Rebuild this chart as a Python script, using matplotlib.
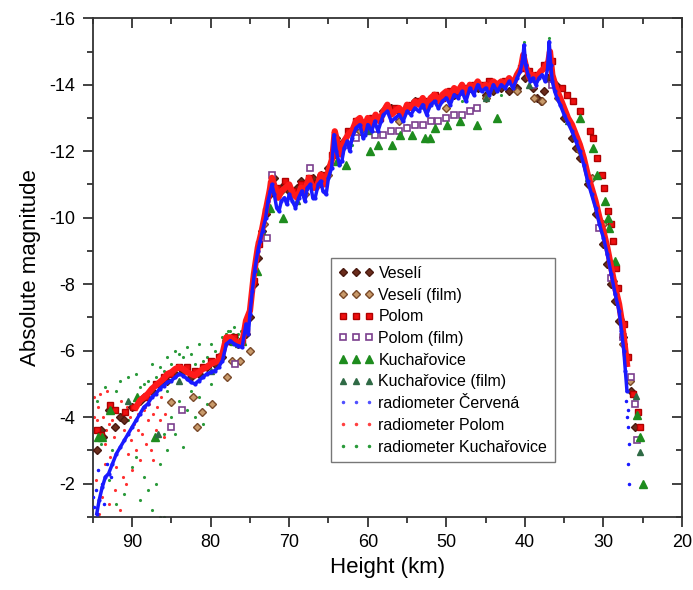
import numpy as np
import matplotlib
matplotlib.use('Agg')
import matplotlib.pyplot as plt
from matplotlib.ticker import MultipleLocator

plt.rcParams['font.family'] = ['Liberation Sans', 'DejaVu Sans']
plt.rcParams['axes.unicode_minus'] = False

# radiometer Cervena (dense light curve)
cer_h = [94.5, 94.2, 93.8, 93.4, 93.0, 92.5, 92.0, 91.5, 91.0, 90.5, 90.0, 89.5, 89.0, 88.5, 88.0,
         87.5, 87.0, 86.5, 86.0, 85.5, 85.0, 84.5, 84.0, 83.5, 83.0, 82.5, 82.0, 81.5, 81.0, 80.5,
         80.0, 79.5, 79.0, 78.5, 78.0, 77.5, 77.0, 76.5, 76.0, 75.5, 75.2, 75.0, 74.7, 74.4, 74.0,
         73.7, 73.4, 73.0, 72.7, 72.4, 72.2, 71.9, 71.6, 71.3, 71.0, 70.6, 70.3, 70.0, 69.6, 69.2,
         68.8, 68.4, 68.0, 67.7, 67.3, 67.0, 66.7, 66.3, 66.0, 65.7, 65.3, 65.0, 64.6, 64.3, 64.0,
         63.6, 63.3, 63.0, 62.6, 62.3, 62.0, 61.5, 61.0, 60.6, 60.3, 60.0, 59.5, 59.1, 58.7, 58.3,
         58.0, 57.5, 57.0, 56.5, 56.0, 55.5, 55.0, 54.5, 54.0, 53.5, 53.0, 52.5, 52.0, 51.5, 51.0,
         50.5, 50.0, 49.5, 49.0, 48.5, 48.0, 47.5, 47.0, 46.5, 46.0, 45.5, 45.0, 44.5, 44.0, 43.5,
         43.0, 42.5, 42.0, 41.5, 41.0, 40.6, 40.3, 40.1, 39.9, 39.6, 39.3, 39.0, 38.6, 38.2, 37.8,
         37.4, 37.1, 36.9, 36.7, 36.5, 36.2, 35.9, 35.5, 35.0, 34.5, 34.0, 33.5, 33.0, 32.5, 32.0,
         31.5, 31.0, 30.5, 30.0, 29.5, 29.0, 28.5, 28.0, 27.7, 27.4, 27.2, 27.0]
cer_m = [-1.1, -1.5, -1.9, -2.2, -2.3, -2.6, -2.9, -3.1, -3.3, -3.5, -3.7, -3.9, -4.1, -4.3, -4.4,
         -4.6, -4.7, -4.85, -4.95, -5.05, -5.1, -5.2, -5.3, -5.25, -5.15, -5.05, -5.0, -5.1, -5.2, -5.3,
         -5.35, -5.4, -5.5, -5.7, -6.2, -6.3, -6.2, -6.15, -6.1, -6.8, -6.5, -7.1, -7.8, -8.4, -9.0,
         -9.3, -9.6, -10.0, -10.5, -10.8, -11.0, -10.7, -10.3, -10.2, -10.5, -10.6, -10.4, -10.7, -10.5, -10.3,
         -10.6, -10.8, -10.5, -10.9, -11.0, -10.6, -10.6, -11.0, -11.1, -10.8, -10.7, -11.2, -11.5, -12.5, -12.0,
         -11.6, -11.7, -12.1, -12.3, -12.0, -12.4, -12.7, -12.8, -12.4, -12.5, -12.8, -12.6, -12.9, -12.6, -12.9,
         -13.1, -13.2, -12.9, -13.0, -13.1, -12.9, -13.2, -13.1, -13.3, -13.2, -13.4, -13.1, -13.4, -13.5, -13.3,
         -13.5, -13.6, -13.4, -13.7, -13.6, -13.8, -13.5, -13.9, -13.7, -14.0, -13.8, -13.9, -13.7, -14.0, -13.8,
         -14.0, -13.9, -14.1, -13.9, -14.2, -14.4, -14.7, -15.2, -14.6, -14.3, -14.1, -14.2, -14.0, -14.2, -14.3,
         -14.1, -14.5, -15.3, -14.6, -14.1, -13.8, -13.6, -13.4, -13.1, -12.85, -12.6, -12.3, -12.0, -11.6, -11.1,
         -10.7, -10.3, -9.8, -9.4, -8.9, -8.3, -7.7, -7.2, -6.6, -6.0, -5.4, -4.8]
cer_sc_h = [26.9, 26.9, 26.8, 26.9, 26.8, 27.1, 27.0, 94.8, 94.6, 95.0, 94.3, 93.9, 93.6, 93.2, 92.7]
cer_sc_m = [-4.2, -3.7, -3.2, -2.6, -2.0, -4.5, -4.0, -1.3, -1.8, -1.6, -2.4, -2.0, -1.4, -2.6, -2.2]

# radiometer Polom
pol_h = [89.5, 89.0, 88.5, 88.0, 87.5, 87.0, 86.5, 86.0, 85.5, 85.0, 84.5, 84.0, 83.5, 83.0, 82.5,
         82.0, 81.5, 81.0, 80.5, 80.0, 79.5, 79.0, 78.5, 78.0, 77.5, 77.0, 76.5, 76.0, 75.5, 75.0,
         74.5, 74.0, 73.5, 73.0, 72.5, 72.2, 71.8, 71.4, 71.0, 70.5, 70.0, 69.5, 69.0, 68.5, 68.0,
         67.5, 67.0, 66.5, 66.0, 65.5, 65.0, 64.5, 64.2, 63.8, 63.4, 63.0, 62.5, 62.0, 61.5, 61.0,
         60.5, 60.0, 59.5, 59.0, 58.5, 58.0, 57.5, 57.0, 56.5, 56.0, 55.5, 55.0, 54.5, 54.0, 53.5,
         53.0, 52.5, 52.0, 51.5, 51.0, 50.5, 50.0, 49.5, 49.0, 48.5, 48.0, 47.5, 47.0, 46.5, 46.0,
         45.5, 45.0, 44.5, 44.0, 43.5, 43.0, 42.5, 42.0, 41.5, 41.0, 40.5, 40.2, 39.8, 39.4, 39.0,
         38.5, 38.0, 37.5, 37.0, 36.8, 36.5, 36.0, 35.5, 35.0, 34.5, 34.0, 33.5, 33.0, 32.5, 32.0,
         31.5, 31.0, 30.5, 30.0, 29.5, 29.0, 28.5, 28.0, 27.6, 27.3, 27.0]
pol_m = [-4.3, -4.5, -4.6, -4.7, -4.85, -4.95, -5.05, -5.15, -5.3, -5.35, -5.45, -5.5, -5.45, -5.35, -5.3,
         -5.25, -5.35, -5.45, -5.5, -5.6, -5.65, -5.7, -5.9, -6.4, -6.4, -6.3, -6.25, -6.2, -6.9, -7.2,
         -8.3, -9.1, -9.6, -10.2, -10.8, -11.2, -10.9, -10.6, -10.8, -10.9, -11.0, -10.7, -10.6, -10.9, -10.8,
         -11.2, -10.9, -10.9, -11.3, -11.0, -11.4, -11.8, -12.6, -12.2, -11.9, -12.3, -12.5, -12.6, -12.9, -13.0,
         -12.7, -13.0, -12.8, -13.1, -12.9, -13.2, -13.4, -13.1, -13.2, -13.3, -13.1, -13.4, -13.3, -13.5, -13.4,
         -13.6, -13.3, -13.6, -13.7, -13.5, -13.7, -13.8, -13.6, -13.9, -13.8, -14.0, -13.7, -14.0, -13.9, -14.1,
         -13.9, -14.0, -13.9, -14.1, -14.0, -14.1, -14.0, -14.2, -14.0, -14.3, -14.5, -14.9, -14.5, -14.2, -14.3,
         -14.2, -14.4, -14.5, -14.7, -15.0, -14.3, -13.9, -13.6, -13.3, -13.0, -12.8, -12.5, -12.2, -11.8, -11.3,
         -10.9, -10.5, -10.0, -9.6, -9.1, -8.5, -7.9, -7.4, -6.8, -6.2, -5.6]
pol_sc_h = [94.8, 94.5, 94.3, 94.0, 93.7, 93.5, 93.2, 93.0, 92.8, 92.6, 92.3, 92.0, 91.8, 91.5, 91.2,
            91.0, 90.7, 90.5, 90.2, 90.0, 89.8, 89.5, 89.2, 89.0, 88.7, 88.5, 88.2, 88.0, 87.6, 87.3,
            87.0, 86.5, 86.0, 93.8, 93.0, 92.2, 94.6, 93.4, 91.6, 90.8, 95.0, 94.2, 88.8, 87.8, 86.8, 85.8,
            94.9, 94.1, 93.3, 92.5, 91.4, 90.3, 89.3, 88.3, 87.4, 86.3]
pol_sc_m = [-4.6, -3.9, -4.3, -3.5, -4.0, -3.2, -4.8, -3.8, -2.8, -4.4, -3.4, -2.5, -4.0, -3.1, -2.2,
            -3.6, -4.3, -2.9, -3.3, -2.4, -3.8, -3.0, -4.1, -2.7, -3.5, -4.2, -3.2, -3.9, -3.0, -2.7,
            -3.6, -3.9, -3.4, -1.6, -1.4, -1.8, -2.1, -2.6, -1.2, -2.0, -3.0, -1.1, -4.6, -4.4, -4.3, -4.1,
            -4.0, -4.7, -3.6, -3.9, -4.5, -4.0, -3.6, -4.3, -4.1, -4.6]

# radiometer Kucharovice
kuc_h = [90.5, 89.5, 88.5, 87.5, 86.5, 85.5, 84.5, 83.5, 82.5, 81.5, 80.5, 79.5, 78.5, 77.5, 76.5,
         83.0, 84.0, 85.0, 86.0, 80.0, 81.0, 82.0, 79.0, 78.0, 77.0, 87.0, 88.0, 89.0, 92.0, 93.5, 91.5,
         84.0, 83.0, 82.0, 81.0, 80.5, 85.0, 86.0, 85.5, 86.5, 87.0, 88.0, 89.0, 87.5, 86.5, 90.0,
         91.0, 92.0, 93.0, 94.0, 94.5, 84.5, 83.5, 82.5, 81.5, 80.0, 88.5, 89.5, 90.5, 91.5, 92.5,
         86.0, 85.5, 77.8, 77.2, 76.6, 76.2, 40.1, 40.0, 36.9, 36.8, 62.0, 55.0, 48.0, 43.0, 33.0, 30.0]
kuc_m = [-5.2, -5.3, -5.0, -5.6, -5.5, -5.8, -6.0, -5.8, -5.9, -6.2, -5.8, -6.0, -6.4, -6.6, -6.5,
         -6.1, -5.9, -5.6, -5.4, -6.2, -5.7, -5.6, -5.9, -6.5, -6.7, -5.2, -5.1, -4.9, -4.8, -4.9, -5.1,
         -4.5, -4.2, -4.0, -3.8, -4.4, -4.0, -3.5, -3.0, -2.6, -2.0, -1.8, -1.5, -1.2, -1.0, -2.5,
         -1.7, -1.4, -2.1, -3.2, -4.5, -3.5, -3.1, -4.8, -4.6, -5.0, -2.2, -2.8, -3.9, -4.1, -3.0,
         -1.0, -4.8, -6.6, -6.5, -6.4, -6.6, -15.3, -14.9, -15.4, -15.0, -12.2, -12.8, -13.5, -13.7, -12.1, -9.5]

# Veseli
ves_h = [94.5, 94.0, 93.7, 93.0, 92.2, 91.6, 91.0, 90.0, 89.0, 88.5, 87.5, 86.5, 85.5, 84.5, 83.5,
         82.5, 81.5, 80.5, 79.5, 78.5, 77.5, 76.5, 75.5, 75.0, 74.5, 74.0, 73.5, 73.0, 72.5, 72.0,
         71.5, 71.0, 70.5, 70.0, 69.0, 68.5, 68.0, 67.0, 66.0, 65.0, 64.0, 63.5, 63.0, 62.0, 61.0,
         60.0, 59.0, 58.0, 57.0, 56.0, 55.0, 54.0, 53.0, 52.0, 51.0, 50.0, 49.0, 48.0, 47.0, 46.0,
         45.0, 44.0, 43.0, 42.0, 41.0, 40.0, 39.0, 38.5, 38.0, 37.5, 37.0, 36.0, 35.0, 34.0, 33.5,
         33.0, 32.0, 31.0, 30.0, 29.5, 29.0, 28.5, 28.0, 27.5, 27.0, 26.5, 26.0]
ves_m = [-3.0, -3.6, -3.4, -4.2, -3.7, -4.0, -3.9, -4.3, -4.5, -4.6, -4.8, -5.0, -5.1, -5.3, -5.4,
         -5.2, -5.3, -5.5, -5.6, -5.8, -6.3, -6.2, -6.5, -7.0, -8.0, -8.8, -9.6, -10.1, -10.7, -11.2,
         -10.8, -10.9, -11.0, -10.8, -10.9, -11.1, -10.9, -11.2, -11.3, -11.5, -12.4, -12.0, -12.3, -12.6, -12.9,
         -12.8, -13.0, -13.2, -13.3, -13.2, -13.3, -13.5, -13.4, -13.5, -13.6, -13.7, -13.7, -13.8, -13.9, -13.9,
         -13.7, -13.8, -13.9, -13.8, -13.9, -14.2, -13.9, -13.6, -13.5, -13.8, -14.2, -14.0, -13.0, -12.4, -12.1,
         -11.8, -11.0, -10.1, -9.2, -8.6, -8.0, -7.5, -6.9, -6.4, -5.8, -4.8, -3.7]

# Veseli (film)
vesf_h = [85.1, 82.3, 81.8, 81.1, 79.8, 77.9, 77.3, 76.3, 75.0, 73.2, 71.0, 68.0, 65.0, 61.0, 56.0,
          50.0, 45.0, 41.0, 38.8, 37.8, 35.8, 33.0, 31.5, 30.0, 28.8, 27.5, 26.6]
vesf_m = [-4.45, -4.6, -3.7, -4.15, -4.4, -5.2, -5.7, -5.7, -6.0, -9.8, -10.8, -10.7, -11.3, -12.6, -12.9,
          -13.3, -13.6, -13.8, -13.6, -13.5, -13.6, -12.0, -11.2, -9.8, -8.1, -6.2, -5.1]

# Polom
pol_sq_h = [94.5, 94.0, 92.8, 92.2, 90.9, 89.9, 88.2, 87.0, 86.0, 85.0, 84.0, 83.0, 82.0, 81.0, 80.0,
            79.0, 78.0, 77.0, 76.0, 75.5, 74.5, 73.8, 73.0, 72.3, 71.5, 70.5, 69.5, 68.5, 67.5, 66.5,
            65.5, 64.5, 63.5, 62.5, 61.5, 60.5, 59.5, 58.5, 57.5, 56.5, 55.5, 54.5, 53.5, 52.5, 51.5,
            50.5, 49.5, 48.5, 47.5, 46.5, 45.5, 44.5, 43.5, 42.5, 41.5, 40.5, 39.5, 38.5, 37.5, 36.6,
            35.3, 34.6, 33.9, 33.0, 31.7, 31.3, 30.8, 30.2, 29.9, 29.4, 29.0, 28.8, 28.4, 28.1, 27.4,
            26.9, 26.2, 25.6, 25.3]
pol_sq_m = [-3.6, -3.45, -4.35, -4.2, -4.15, -4.3, -4.6, -5.0, -5.2, -5.3, -5.5, -5.5, -5.4, -5.5, -5.7,
            -5.8, -6.3, -6.4, -6.3, -6.6, -8.1, -9.2, -10.2, -11.0, -10.9, -11.1, -10.8, -11.0, -11.2, -11.0,
            -11.3, -11.9, -12.2, -12.6, -12.9, -12.8, -13.0, -13.0, -13.3, -13.3, -13.2, -13.4, -13.5, -13.5, -13.7,
            -13.6, -13.8, -13.8, -13.9, -14.0, -14.0, -14.1, -14.0, -14.1, -14.1, -14.5, -14.4, -14.3, -14.6, -14.7,
            -13.9, -13.7, -13.5, -13.2, -12.6, -12.4, -11.8, -11.3, -10.9, -10.2, -9.8, -9.3, -8.5, -7.9, -6.8,
            -5.8, -4.7, -4.15, -3.7]

# Polom (film)
polf_h = [85.0, 83.7, 76.9, 72.8, 72.2, 67.4, 63.5, 62.5, 61.5, 59.1, 58.0, 57.0, 56.0, 55.0, 54.0,
          53.0, 52.0, 51.0, 50.0, 49.0, 48.0, 47.0, 46.1, 39.0, 36.5, 30.5, 29.0, 27.5, 26.5, 26.0, 25.7]
polf_m = [-3.7, -4.2, -5.6, -9.4, -11.3, -11.5, -11.8, -12.2, -12.4, -12.5, -12.5, -12.6, -12.6, -12.7, -12.8,
          -12.8, -12.9, -12.9, -13.0, -13.1, -13.1, -13.2, -13.3, -14.0, -14.0, -9.7, -8.2, -6.4, -5.2, -4.4, -3.3]

# Kucharovice
kt_h = [94.4, 93.9, 92.8, 89.4, 87.1, 78.0, 77.0, 76.0, 74.1, 72.5, 70.8, 63.9, 62.8, 59.7, 58.7,
        56.9, 55.9, 54.4, 52.7, 52.1, 51.4, 49.9, 48.2, 46.1, 43.5, 33.0, 31.3, 30.8, 29.8, 29.4,
        29.3, 28.5, 25.7, 25.3, 25.0]
kt_m = [-3.4, -3.4, -4.2, -4.6, -3.4, -6.4, -6.3, -6.3, -8.4, -10.3, -10.0, -11.7, -11.6, -12.0, -12.2,
        -12.2, -12.5, -12.5, -12.4, -12.4, -12.7, -12.8, -12.9, -12.8, -13.0, -13.0, -12.1, -11.3, -10.5, -10.0,
        -9.7, -8.7, -4.05, -3.4, -2.0]

# Kucharovice (film)
ktf_h = [86.7, 90.5, 84.0, 80.0, 76.5, 73.5, 69.0, 60.0, 45.0, 39.5, 34.5, 32.0, 27.8, 25.8, 25.3]
ktf_m = [-3.5, -4.5, -5.1, -5.4, -6.2, -9.6, -10.5, -12.6, -13.6, -14.0, -12.9, -11.2, -7.0, -4.65, -2.95]

fig = plt.figure(figsize=(6.93, 5.9), dpi=100)
ax = fig.add_axes([0.134, 0.124, 0.850, 0.845])

ax.plot(kuc_h, kuc_m, '.', color='#2a9a3a', ms=2.5, ls='none', zorder=2)
ax.plot(pol_sc_h, pol_sc_m, '.', color='#ff3030', ms=2.5, ls='none', zorder=2)

ax.plot(ves_h, ves_m, 'D', color='#6a2c1c', mec='#4a1a10', ms=4.5, ls='none', zorder=3, label='Veselí')
ax.plot(vesf_h, vesf_m, 'D', color='#c89a6a', mec='#7a4a2a', ms=4.5, ls='none', zorder=3, label='Veselí (film)')
ax.plot(pol_sq_h, pol_sq_m, 's', color='#ee1010', mec='#b00000', ms=5, ls='none', zorder=3, label='Polom')
ax.plot(polf_h, polf_m, 's', mfc='white', mec='#7b3f8e', mew=1.2, ms=5, ls='none', zorder=3, label='Polom (film)')
ax.plot(kt_h, kt_m, '^', color='#1e8c1e', ms=5.5, ls='none', zorder=3, label='Kuchařovice')
ax.plot(ktf_h, ktf_m, '^', color='#2f6a45', ms=4.5, ls='none', zorder=3, label='Kuchařovice (film)')

# dense radiometer curves
ax.plot(pol_h, pol_m, '-', color='#ff1a1a', lw=4.5, zorder=4)
ax.plot(cer_h, cer_m, '.-', color='#1a1aff', lw=2.5, ms=4, zorder=5)
ax.plot(cer_sc_h, cer_sc_m, '.', color='#1a1aff', ms=3, ls='none', zorder=5)

# legend-only handles for the radiometers
ax.plot([], [], '.', color='#5050ff', ms=3, ls='none', label='radiometer Červená')
ax.plot([], [], '.', color='#ff4040', ms=3, ls='none', label='radiometer Polom')
ax.plot([], [], '.', color='#2a9a3a', ms=3, ls='none', label='radiometer Kuchařovice')

ax.set_xlim(95, 20)
ax.set_ylim(-1, -16)
ax.xaxis.set_major_locator(MultipleLocator(10))
ax.xaxis.set_minor_locator(MultipleLocator(5))
ax.yaxis.set_major_locator(MultipleLocator(2))
ax.yaxis.set_minor_locator(MultipleLocator(1))
ax.tick_params(which='both', direction='out', top=False, right=False, labelsize=13,
               color='#333333', width=1.3)
ax.tick_params(which='major', length=7.5, pad=5)
ax.tick_params(which='minor', length=4)
for s in ax.spines.values():
    s.set_linewidth(1.3)
    s.set_color('#333333')

# inward ticks on top and right
axt = ax.twiny()
axt.set_xlim(ax.get_xlim())
axt.xaxis.set_major_locator(MultipleLocator(10))
axt.xaxis.set_minor_locator(MultipleLocator(5))
axt.tick_params(which='both', direction='in', labeltop=False, color='#333333', width=1.3)
axt.tick_params(which='major', length=7)
axt.tick_params(which='minor', length=4)
axr = ax.twinx()
axr.set_ylim(ax.get_ylim())
axr.yaxis.set_major_locator(MultipleLocator(2))
axr.yaxis.set_minor_locator(MultipleLocator(1))
axr.tick_params(which='both', direction='in', labelright=False, color='#333333', width=1.3)
axr.tick_params(which='major', length=7)
axr.tick_params(which='minor', length=4)
for a in (axt, axr):
    for s in a.spines.values():
        s.set_visible(False)

ax.set_xlabel('Height (km)', fontsize=16, labelpad=4)
ax.set_ylabel('Absolute magnitude', fontsize=16, labelpad=6)

leg = ax.legend(loc='lower left', bbox_to_anchor=(0.39, 0.093), numpoints=3, fontsize=11.5,
                frameon=True, fancybox=False, edgecolor='#555555', handlelength=2.2,
                handletextpad=0.3, labelspacing=0.42, borderpad=0.5)
leg.get_frame().set_linewidth(1.0)
leg.set_zorder(10)

fig.savefig('out.png', dpi=100)
